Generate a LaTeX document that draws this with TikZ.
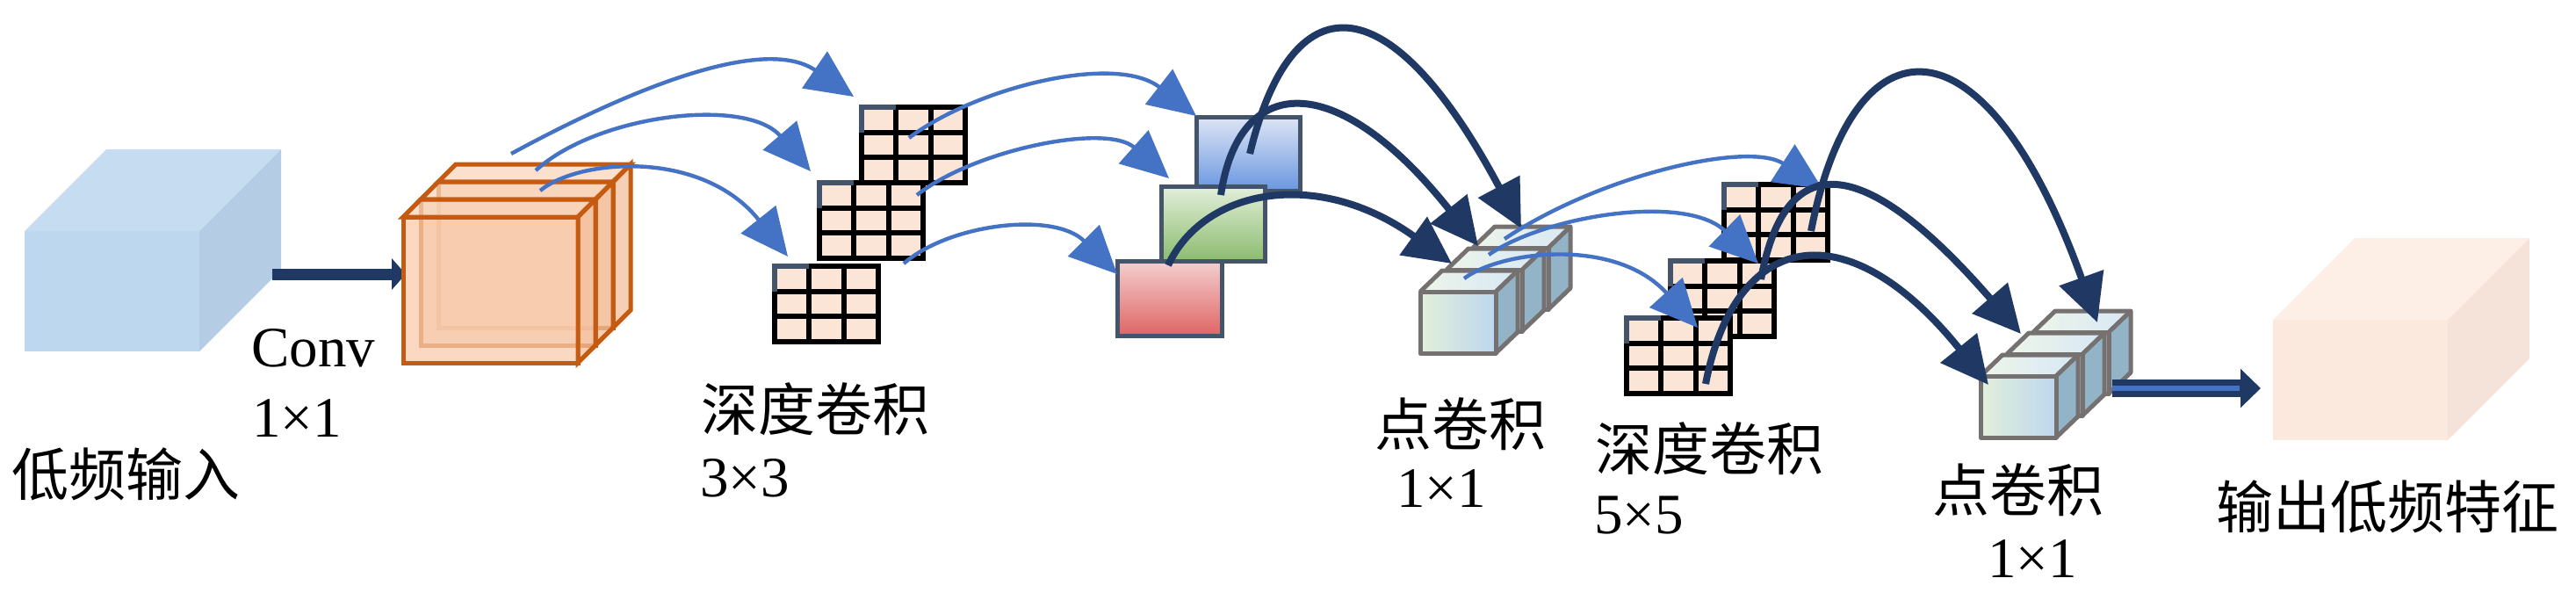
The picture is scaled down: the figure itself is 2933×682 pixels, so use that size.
\documentclass[tikz,border=0pt]{standalone}
\usepackage{fontspec}
\setmainfont{Liberation Serif}
\newfontfamily\cjk{Noto Sans CJK SC}
\usetikzlibrary{arrows.meta}

\definecolor{navy}{HTML}{1F3864}
\definecolor{arrowblue}{HTML}{4472C4}
\definecolor{slate}{HTML}{44546A}
\definecolor{kfill}{HTML}{FBE5D6}
\definecolor{orline}{HTML}{C55A11}
\definecolor{orfill}{HTML}{F8CBAD}
\definecolor{pwleft}{HTML}{E2EFDA}
\definecolor{pwright}{HTML}{BDD7EE}
\definecolor{pwside}{HTML}{93B3C6}
\definecolor{pwedge}{HTML}{767171}

% 3x3 kernel, top-left corner at (#1,#2)
\newcommand{\kernelgrid}[2]{%
  \fill[kfill] (#1,#2) rectangle ++(118,86);
  \foreach \i in {1,2} {
    \draw[kline] ({#1+\i*39.33},#2) -- ++(0,86);
    \draw[kline] (#1,{#2+\i*28.67}) -- ++(118,0);
  }
  \draw[kline] (#1,#2) rectangle ++(118,86);
  \draw[kline, draw=slate] (#1,#2+28.67) -- (#1,#2) -- (#1+39.33,#2);
}
% small 1x1 cube, front top-left corner at (#1,#2)
\newcommand{\pwcube}[2]{%
  \shade[left color=pwleft, right color=pwright] (#1,#2) rectangle ++(86,70);
  \shade[left color=pwleft!60!white, right color=pwright!60!white] (#1,#2) -- ++(25,-24) -- ++(86,0) -- ++(-25,24) -- cycle;
  \fill[pwside] (#1+86,#2) -- ++(25,-24) -- ++(0,70) -- ++(-25,24) -- cycle;
  \draw[pwline] (#1,#2) rectangle ++(86,70);
  \draw[pwline] (#1,#2) -- ++(25,-24) -- ++(86,0) -- ++(0,70) -- ++(-25,24);
  \draw[pwline] (#1+86,#2) -- ++(25,-24);
}
% one slab of the orange block
\newcommand{\slab}[2]{%
  \filldraw[orslab] (#1,#2) rectangle ++(199,166);
  \filldraw[orslab, fill=orfill!80!white] (#1,#2) -- ++(20,-20) -- ++(199,0) -- ++(-20,20) -- cycle;
  \filldraw[orslab, fill=orfill!90!orline] (#1+199,#2) -- ++(20,-20) -- ++(0,166) -- ++(-20,20) -- cycle;
}

\begin{document}
\begin{tikzpicture}[x=0.5pt, y=-0.5pt,
  lbl/.style={anchor=base west, inner sep=0pt, font=\fontsize{32.5}{38}\selectfont},
  cjklbl/.style={lbl, font=\fontsize{32.5}{38}\selectfont\cjk},
  kline/.style={draw=black, line width=3pt},
  pwline/.style={draw=pwedge, line width=2.5pt, line join=round},
  orslab/.style={draw=orline, line width=2.5pt, fill=orfill, fill opacity=0.75},
  maprect/.style={draw=slate, line width=2.5pt},
  thinarrow/.style={draw=arrowblue, line width=2.2pt, -{Triangle[length=27pt,width=25pt]}},
  thickarrow/.style={draw=navy, line width=4pt, -{Triangle[length=27pt,width=26pt]}}]
\useasboundingbox (0,0) rectangle (2933,682);

% input
\fill[fill={rgb,255:red,189;green,215;blue,238}] (28,263) rectangle ++(199,137);
\fill[fill={rgb,255:red,198;green,221;blue,241}] (28,263) -- ++(93,-93) -- ++(199,0) -- ++(-93,93) -- cycle;
\fill[fill={rgb,255:red,180;green,204;blue,228}] (227,263) -- ++(93,-93) -- ++(0,137) -- ++(-93,93) -- cycle;
\node[cjklbl] (inlbl) at (13,564) {低频输入};

\coordinate (convs) at (310,312);
\coordinate (conve) at (462,312);
\draw[navy, line width=6.5pt, -{Triangle[length=8pt,width=17.5pt]}] (convs) -- (conve);
\node[lbl] (convlbl) at (286,417) {Conv};
\node[lbl] (convsize) at (287,497) {1×1};

% conv 1x1 block
\foreach \k in {2,1,0}
  \slab{459+20*\k}{247-20*\k};

% depthwise 3x3
\kernelgrid{981}{122}
\kernelgrid{933}{208}
\kernelgrid{882}{303}
\node[cjklbl] (dw1lbl) at (798,490) {深度卷积};
\node[lbl] (dw1size) at (797,565) {3×3};

\coordinate (a1s) at (582,175); \coordinate (a1e) at (972,110);
\coordinate (a2s) at (610,194); \coordinate (a2e) at (923,195);
\coordinate (a3s) at (615,217); \coordinate (a3e) at (897,292);
\draw[thinarrow] (a1s) .. controls (720,100) and (870,40) .. (a1e);
\draw[thinarrow] (a2s) .. controls (680,130) and (850,110) .. (a2e);
\draw[thinarrow] (a3s) .. controls (660,180) and (800,170) .. (a3e);

% depthwise outputs
\shadedraw[maprect, top color={rgb,255:red,221;green,229;blue,245}, bottom color={rgb,255:red,106;green,150;blue,224}] (1362,133) rectangle ++(118,84);
\shadedraw[maprect, top color={rgb,255:red,226;green,239;blue,218}, bottom color={rgb,255:red,140;green,187;blue,110}] (1322,212) rectangle ++(118,85);
\shadedraw[maprect, top color={rgb,255:red,244;green,207;blue,207}, bottom color={rgb,255:red,224;green,100;blue,100}] (1272,297) rectangle ++(119,85);

\coordinate (b1s) at (1035,157); \coordinate (b1e) at (1362,132);
\coordinate (b2s) at (1044,222); \coordinate (b2e) at (1331,203);
\coordinate (b3s) at (1029,300); \coordinate (b3e) at (1272,312);
\draw[thinarrow] (b1s) .. controls (1110,100) and (1270,60) .. (b1e);
\draw[thinarrow] (b2s) .. controls (1110,170) and (1260,140) .. (b2e);
\draw[thinarrow] (b3s) .. controls (1080,255) and (1200,240) .. (b3e);

% pointwise 1x1
\foreach \k in {2,1,0}
  \pwcube{1617+30*\k}{332-25*\k};
\node[cjklbl] (pw1lbl) at (1565,507) {点卷积};
\node[lbl] (pw1size) at (1590,577) {1×1};

\coordinate (c1s) at (1330,302); \coordinate (c1e) at (1653,300);
\coordinate (c2s) at (1390,222); \coordinate (c2e) at (1683,280);
\coordinate (c3s) at (1423,175); \coordinate (c3e) at (1732,260);
\draw[thickarrow] (c1s) .. controls (1370,215) and (1500,190) .. (c1e);
\draw[thickarrow] (c2s) .. controls (1410,85) and (1520,75) .. (c2e);
\draw[thickarrow] (c3s) .. controls (1470,-20) and (1580,-25) .. (c3e);

% depthwise 5x5
\kernelgrid{1963}{210}
\kernelgrid{1902}{297}
\kernelgrid{1852}{362}
\node[cjklbl] (dw2lbl) at (1816,535) {深度卷积};
\node[lbl] (dw2size) at (1815,607) {5×5};

\coordinate (g1s) at (1713,272); \coordinate (g1e) at (2075,215);
\coordinate (g2s) at (1695,290); \coordinate (g2e) at (2002,300);
\coordinate (g3s) at (1667,317); \coordinate (g3e) at (1933,373);
\draw[thinarrow] (g1s) .. controls (1820,200) and (1990,160) .. (g1e);
\draw[thinarrow] (g2s) .. controls (1760,245) and (1920,220) .. (g2e);
\draw[thinarrow] (g3s) .. controls (1710,285) and (1840,270) .. (g3e);

% pointwise 1x1
\foreach \k in {2,1,0}
  \pwcube{2255+30*\k}{428-25*\k};
\node[cjklbl] (pw2lbl) at (2200,582) {点卷积};
\node[lbl] (pw2size) at (2263,657) {1×1};

\coordinate (h1s) at (1942,437); \coordinate (h1e) at (2264,438);
\coordinate (h2s) at (2005,318); \coordinate (h2e) at (2301,380);
\coordinate (h3s) at (2062,263); \coordinate (h3e) at (2388,367);
\draw[thickarrow] (h1s) .. controls (1975,265) and (2100,235) .. (h1e);
\draw[thickarrow] (h2s) .. controls (2030,180) and (2110,160) .. (h2e);
\draw[thickarrow] (h3s) .. controls (2110,15) and (2260,10) .. (h3e);

% output
\coordinate (outs) at (2405,442);
\coordinate (outm) at (2550,442);
\coordinate (oute) at (2574,442);
\draw[navy, line width=10pt, -{Triangle[length=11.5pt,width=21.5pt]}] (outs) -- (oute);
\draw[arrowblue, line width=3pt] (outs) -- (outm);

\fill[fill={rgb,255:red,252;green,233;blue,221}] (2588,364) rectangle ++(199,137);
\fill[fill={rgb,255:red,253;green,239;blue,230}] (2588,364) -- ++(93,-93) -- ++(199,0) -- ++(-93,93) -- cycle;
\fill[fill={rgb,255:red,245;green,226;blue,216}] (2787,364) -- ++(93,-93) -- ++(0,137) -- ++(-93,93) -- cycle;
\node[cjklbl] (outlbl) at (2523,601) {输出低频特征};
\end{tikzpicture}
\end{document}
